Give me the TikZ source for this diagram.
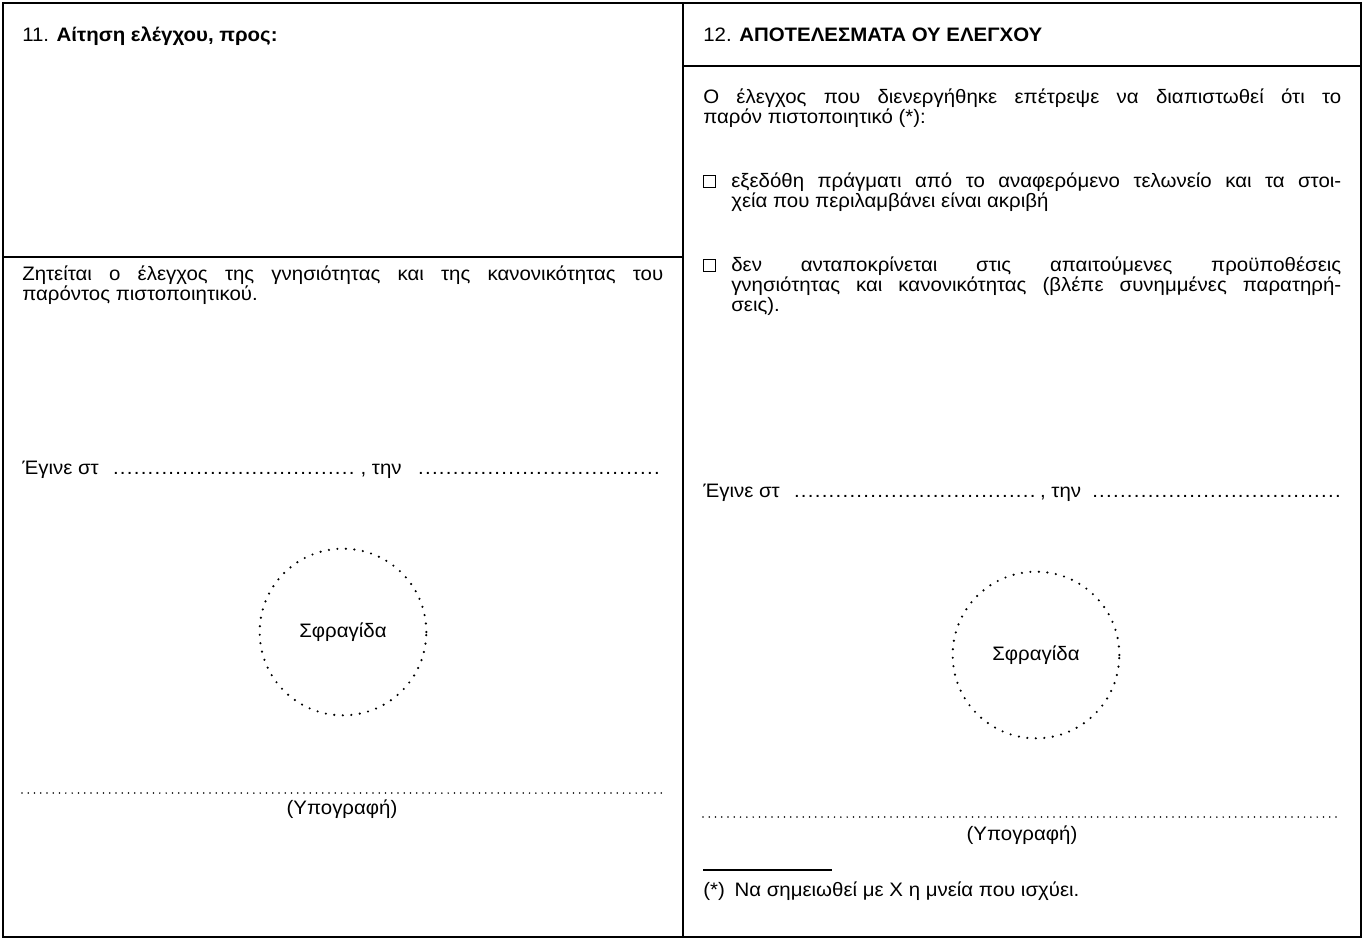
\documentclass[tikz,border=0pt]{standalone}
\usepackage{fontspec}
\setmainfont{Liberation Sans}[FakeStretch=1.05]
\usetikzlibrary{positioning}
\newcommand{\dotrow}{\leaders\hbox to 5.2pt{\hss.\hss}\hfill}

\begin{document}
\begin{tikzpicture}[x=0.75pt, y=-0.75pt,
frame/.style={line width=1.5pt},
txt/.style={inner sep=0pt, anchor=base west, font=\fontsize{14.6}{15}\selectfont},
para/.style={txt, text width=#1, align=justify},
stamp/.style={circle, draw, minimum size=125pt, inner sep=0pt, line width=1.8pt, line cap=round,
  dash pattern=on 0pt off 6.4pt, font=\fontsize{14.6}{15}\selectfont},
chkbox/.style={draw, line width=0.6pt, minimum size=9pt, inner sep=0pt},
dots/.style={line width=1.3pt, line cap=round, dash pattern=on 0pt off 4.7pt}
]
\useasboundingbox (0,0) rectangle (1364,940);
%Frame
\coordinate (nw) at (3,3);
\coordinate (se) at (1361,937);
\coordinate (midtop) at (683,3);
\coordinate (midbot) at (683,937);
\draw[frame] (nw) rectangle (se);
\draw[frame] (midtop) -- (midbot);
\draw[frame] (3,257) -- (683,257);
\draw[frame] (683,66) -- (1361,66);

%Left
\node[txt]              (head11) at (22,41)  {11. \textbf{Αίτηση ελέγχου, προς:}};
\node[para=480.75pt]    (request) at (22,280) {Ζητείται ο έλεγχος της γνησιότητας και της κανονικότητας του\linebreak παρόντος πιστοποιητικού.};
\node[txt]              (doneL)  at (22,474) {\hbox to 480.75pt{Έγινε στ\enspace\dotrow, την\enspace\dotrow}};
\node[stamp]            (sealL)  at (343,632) {Σφραγίδα};
\coordinate (sigLa) at (22,793);
\coordinate (sigLb) at (663,793);
\draw[dots] (sigLa) -- (sigLb);
\node[txt, anchor=base] (signL)  at (342,814) {(Υπογραφή)};

%Right
\node[txt]              (head12) at (703,41)  {12. \textbf{ΑΠΟΤΕΛΕΣΜΑΤΑ ΟΥ ΕΛΕΓΧΟΥ}};
\node[para=478.5pt]     (result) at (703,103) {Ο έλεγχος που διενεργήθηκε επέτρεψε να διαπιστωθεί ότι το\linebreak παρόν πιστοποιητικό (*):};
\node[chkbox]           (box1)   at (709,181) {};
\node[para=457.5pt]     (opt1)   at (731,187) {εξεδόθη πράγματι από το αναφερόμενο τελωνείο και τα στοι-\linebreak χεία που περιλαμβάνει είναι ακριβή};
\node[chkbox]           (box2)   at (709,265) {};
\node[para=457.5pt]     (opt2)   at (731,271) {δεν ανταποκρίνεται στις απαιτούμενες προϋποθέσεις\linebreak γνησιότητας και κανονικότητας (βλέπε συνημμένες παρατηρή-\linebreak σεις).};
\node[txt]              (doneR)  at (703,497) {\hbox to 478.5pt{Έγινε στ\enspace\dotrow, την\enspace\dotrow}};
\node[stamp]            (sealR)  at (1036,655) {Σφραγίδα};
\coordinate (sigRa) at (703,817);
\coordinate (sigRb) at (1341,817);
\draw[dots] (sigRa) -- (sigRb);
\node[txt, anchor=base] (signR)  at (1022,840) {(Υπογραφή)};
\coordinate (ruleA) at (703,870);
\coordinate (ruleB) at (832,870);
\draw[line width=0.8pt] (ruleA) -- (ruleB);
\node[txt]              (note)   at (703,896) {(*)\enspace Να σημειωθεί με X η μνεία που ισχύει.};
\end{tikzpicture}
\end{document}
